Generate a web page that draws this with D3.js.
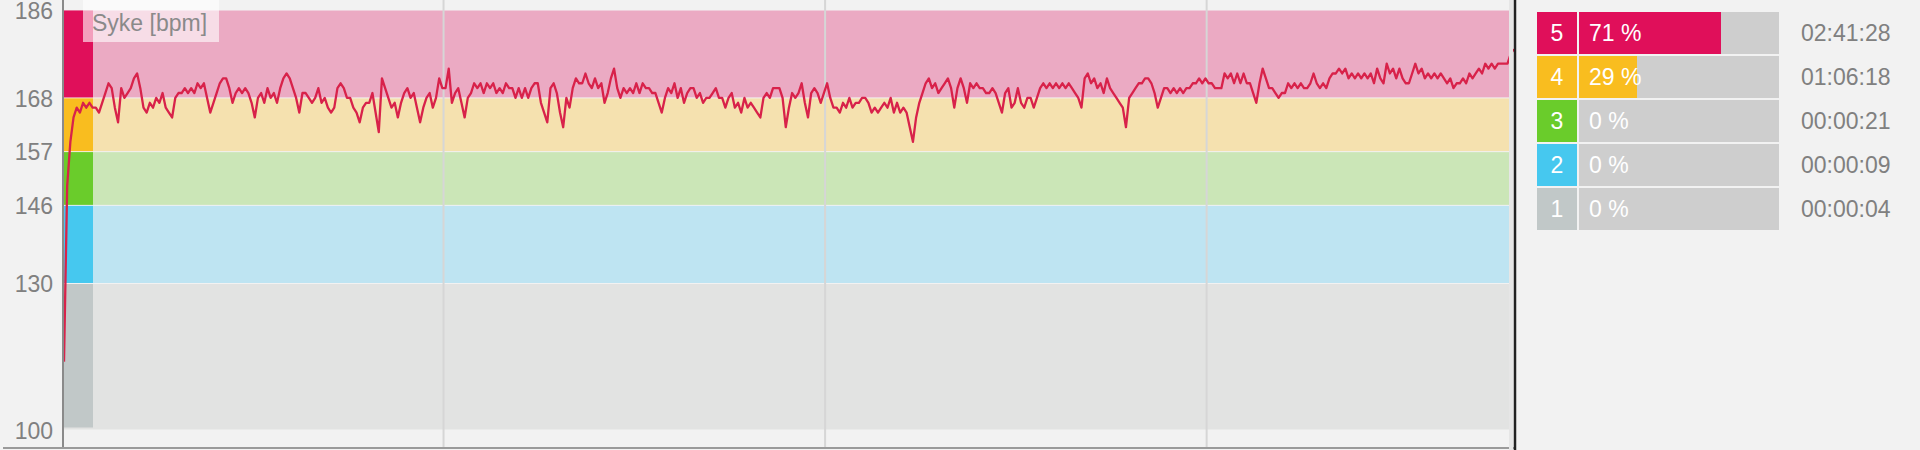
<!DOCTYPE html>
<html>
<head>
<meta charset="utf-8">
<script src="https://cdn.jsdelivr.net/npm/d3@7/dist/d3.min.js"></script>
<style>
  body { margin: 0; background: #f2f2f2; }
  svg { display: block; font-family: "Liberation Sans", Arial, sans-serif; }
</style>
</head>
<body>
<script>
// set width and height of main svg element
var width = 1920,
    height = 450;

// heart rate zones, lowest first
var zoneIds = [1, 2, 3, 4, 5];
var zoneLimits = [100, 130, 146, 157, 168, 186];
var zonePercent = [0, 0, 0, 29, 71];
var zoneTimes = ['00:00:04', '00:00:09', '00:00:21', '01:06:18', '02:41:28'];
var zoneStrong = ['#c1c8c8', '#46c8ef', '#6acc2b', '#f9bd1f', '#e00f5a'];
var zoneLight = ['#e2e3e2', '#bee4f2', '#cbe6b7', '#f5e1af', '#ebaac3'];

// y axis tick labels
var yTicks = [100, 130, 146, 157, 168, 186];

// total duration in seconds and gridline hours
var totalSec = 13700;
var hourTicks = [3600, 7200, 10800];

// heart rate, one sample every 30 s
var sampleSec = 30;
var hr = [
  114, 150, 159, 164, 166, 165, 167, 166, 167, 166,
  166, 165, 167, 169, 171, 170, 166, 163, 170, 168,
  169, 170, 172, 173, 170, 166, 165, 167, 166, 168,
  167, 169, 166, 165, 164, 168, 169, 169, 170, 169,
  170, 169, 171, 170, 171, 168, 165, 167, 169, 171,
  172, 172, 170, 167, 169, 170, 169, 170, 169, 167,
  164, 168, 169, 167, 170, 168, 169, 167, 170, 172,
  173, 172, 170, 168, 165, 169, 169, 168, 167, 168,
  170, 167, 168, 166, 165, 166, 170, 171, 170, 168,
  168, 166, 165, 163, 166, 167, 167, 169, 165, 161,
  172, 170, 168, 166, 167, 164, 167, 169, 170, 168,
  169, 166, 163, 166, 168, 169, 166, 168, 172, 170,
  170, 174, 167, 169, 170, 167, 164, 168, 169, 171,
  170, 171, 169, 171, 170, 171, 169, 170, 169, 171,
  170, 170, 168, 170, 168, 170, 168, 170, 171, 171,
  167, 165, 163, 170, 171, 169, 165, 162, 168, 166,
  170, 172, 171, 171, 173, 171, 170, 172, 170, 171,
  167, 169, 172, 174, 170, 168, 170, 169, 170, 169,
  171, 169, 171, 170, 170, 169, 169, 167, 165, 168,
  170, 169, 171, 168, 170, 167, 169, 170, 170, 168,
  169, 167, 168, 168, 169, 170, 168, 168, 166, 168,
  169, 166, 167, 165, 168, 166, 167, 166, 165, 164,
  168, 169, 168, 170, 170, 170, 168, 162, 166, 169,
  168, 169, 171, 167, 164, 169, 170, 169, 167, 169,
  171, 168, 166, 166, 165, 167, 166, 168, 166, 167,
  167, 168, 168, 167, 165, 166, 165, 166, 167, 166,
  168, 165, 167, 165, 166, 165, 162, 159, 164, 167,
  169, 171, 172, 170, 171, 169, 170, 171, 172, 170,
  166, 170, 172, 170, 167, 171, 170, 171, 170, 170,
  169, 169, 170, 169, 167, 165, 169, 170, 166, 167,
  170, 167, 166, 168, 168, 166, 168, 170, 171, 170,
  171, 170, 171, 170, 171, 170, 171, 170, 169, 168,
  166, 172, 173, 171, 172, 170, 171, 169, 172, 170,
  169, 168, 167, 166, 162, 168, 169, 170, 171, 171,
  172, 172, 171, 169, 166, 168, 170, 170, 169, 170,
  169, 170, 169, 170, 170, 171, 171, 172, 171, 172,
  171, 171, 170, 170, 170, 173, 172, 173, 171, 173,
  171, 173, 171, 171, 169, 167, 171, 174, 172, 170,
  170, 169, 168, 169, 169, 171, 170, 171, 170, 171,
  170, 170, 171, 173, 171, 170, 171, 170, 172, 173,
  173, 174, 173, 174, 172, 173, 172, 173, 172, 173,
  172, 173, 171, 174, 172, 171, 175, 173, 174, 172,
  174, 172, 171, 171, 173, 175, 173, 174, 172, 173,
  172, 173, 172, 173, 172, 171, 172, 170, 171, 171,
  172, 171, 173, 172, 173, 174, 173, 175, 174, 175,
  174, 175, 175, 175, 175, 177, 178
];

// adding svg element to body of html
var svg = d3.select('body')
  .append('svg')
  .attr('width', width)
  .attr('height', height);

// scales for the chart area
var x = d3.scaleLinear().domain([0, totalSec]).range([62, 1514]);
var y = d3.scaleLinear().domain([100, 186]).range([430, 10]);

// light zone bands across the plot
svg.selectAll('.band')
  .data(zoneIds)
  .enter().append('rect')
  .attr('class', 'band')
  .attr('x', 64)
  .attr('width', 1513 - 64)
  .attr('y', function(d, i) { return y(zoneLimits[i + 1]) + 0.5; })
  .attr('height', function(d, i) { return y(zoneLimits[i]) - y(zoneLimits[i + 1]) - 1; })
  .attr('fill', function(d, i) { return zoneLight[i]; });

// strong zone strip at left edge
svg.selectAll('.strip')
  .data(zoneIds)
  .enter().append('rect')
  .attr('class', 'strip')
  .attr('x', 64)
  .attr('width', 29)
  .attr('y', function(d, i) { return y(zoneLimits[i + 1]) + 0.5; })
  .attr('height', function(d, i) { return y(zoneLimits[i]) - y(zoneLimits[i + 1]) - (i === 0 ? 3 : 1); })
  .attr('fill', function(d, i) { return zoneStrong[i]; });

// hourly gridlines
svg.selectAll('.grid')
  .data(hourTicks)
  .enter().append('line')
  .attr('class', 'grid')
  .attr('x1', function(d) { return x(d); })
  .attr('x2', function(d) { return x(d); })
  .attr('y1', 0)
  .attr('y2', 447)
  .attr('stroke', '#d6d6d6')
  .attr('stroke-width', 2);

// heart rate line
var line = d3.line()
  .x(function(d, i) { return x(i * sampleSec) + 2; })
  .y(function(d) { return y(d); });

svg.append('path')
  .datum(hr)
  .attr('d', line)
  .attr('fill', 'none')
  .attr('stroke', '#d8224a')
  .attr('stroke-width', 2.3)
  .attr('stroke-linejoin', 'round');

// label box
svg.append('rect')
  .attr('x', 83).attr('y', 0)
  .attr('width', 136).attr('height', 42)
  .attr('fill', '#ffffff')
  .attr('opacity', 0.6);

svg.append('text')
  .attr('x', 92).attr('y', 31)
  .attr('fill', '#8a8a8a')
  .style('font-size', '23px')
  .text('Syke [bpm]');

// axes lines
svg.append('line')
  .attr('x1', 63).attr('x2', 63)
  .attr('y1', 0).attr('y2', 449)
  .attr('stroke', '#8a8a8a').attr('stroke-width', 2);

svg.append('line')
  .attr('x1', 3).attr('x2', 1514)
  .attr('y1', 448).attr('y2', 448)
  .attr('stroke', '#9a9a9a').attr('stroke-width', 2);

// y tick labels
svg.selectAll('.ytick')
  .data(yTicks)
  .enter().append('text')
  .attr('class', 'ytick')
  .attr('x', 53)
  .attr('y', function(d) { return y(d); })
  .attr('dy', '0.38em')
  .attr('text-anchor', 'end')
  .attr('fill', '#808080')
  .style('font-size', '23px')
  .text(function(d) { return d; });

// divider between chart and zone summary
svg.append('rect')
  .attr('x', 1509).attr('y', 0)
  .attr('width', 4).attr('height', height)
  .attr('fill', '#e6e6e6');
svg.append('line')
  .attr('x1', 1515).attr('x2', 1515)
  .attr('y1', 0).attr('y2', height)
  .attr('stroke', '#222222').attr('stroke-width', 2.5);

// zone summary, highest zone on top
var rows = svg.selectAll('.row')
  .data(zoneIds.slice().reverse())
  .enter().append('g')
  .attr('class', 'row')
  .attr('transform', function(d, i) { return 'translate(1537,' + (12 + i * 44) + ')'; });

rows.append('rect')
  .attr('width', 40).attr('height', 42)
  .attr('fill', function(d) { return zoneStrong[d - 1]; });

rows.append('text')
  .attr('x', 20).attr('y', 21).attr('dy', '0.36em')
  .attr('text-anchor', 'middle')
  .attr('fill', '#ffffff')
  .style('font-size', '23px')
  .text(function(d) { return d; });

var barScale = d3.scaleLinear().domain([0, 100]).range([0, 200]);

rows.append('rect')
  .attr('x', 42)
  .attr('width', 200).attr('height', 42)
  .attr('fill', '#cecece');

rows.append('rect')
  .attr('x', 42)
  .attr('width', function(d) { return barScale(zonePercent[d - 1]); })
  .attr('height', 42)
  .attr('fill', function(d) { return zoneStrong[d - 1]; });

rows.append('text')
  .attr('x', 52).attr('y', 21).attr('dy', '0.36em')
  .attr('fill', '#ffffff')
  .style('font-size', '23px')
  .text(function(d) { return zonePercent[d - 1] + ' %'; });

rows.append('text')
  .attr('x', 264).attr('y', 21).attr('dy', '0.36em')
  .attr('fill', '#808080')
  .style('font-size', '23px')
  .text(function(d) { return zoneTimes[d - 1]; });
</script>
</body>
</html>
